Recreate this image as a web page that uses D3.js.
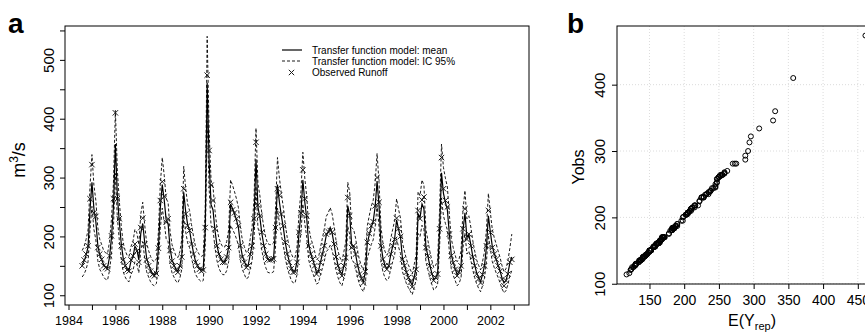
<!DOCTYPE html>
<html lang="en">
<head>
    <meta charset="UTF-8">
    <title>Runoff transfer function model</title>
    <style>
        body { margin: 0; background: #fff; }
        svg { display: block; font-family: "Liberation Sans", Arial, Helvetica, sans-serif; }
    </style>
</head>
<body>
    <div class="container"></div>
    <script src="https://cdn.jsdelivr.net/npm/d3@7/dist/d3.min.js"></script>
    <script>
        // monthly series, Aug 1984 .. Dec 2002
        const startYear = 1984, startMonth = 8

        const observed = [
            150, 160, 170, 184, 264,
            322, 240, 234, 181, 170, 161, 150, 147, 145, 167, 201, 264,
            410, 264, 230, 184, 160, 150, 143, 141, 160, 167, 187, 175,
            156, 215, 231, 187, 160, 150, 141, 135, 133, 137, 180, 261,
            293, 268, 224, 230, 176, 158, 150, 142, 139, 150, 165, 281,
            238, 218, 210, 187, 170, 156, 150, 144, 141, 143, 215, 474,
            346, 287, 261, 213, 184, 170, 161, 156, 156, 165, 181, 258,
            245, 240, 230, 218, 184, 165, 156, 147, 150, 170, 184, 230,
            360, 253, 235, 207, 184, 170, 161, 160, 161, 162, 215, 281,
            270, 238, 218, 190, 170, 156, 145, 139, 140, 156, 207, 240,
            313, 264, 235, 184, 170, 161, 150, 136, 140, 156, 170, 184,
            204, 208, 210, 207, 187, 165, 150, 140, 133, 150, 164, 266,
            235, 181, 184, 170, 150, 136, 128, 121, 140, 190, 205, 218,
            225, 252, 300, 258, 184, 161, 150, 144, 150, 170, 184, 195,
            231, 213, 200, 161, 150, 139, 130, 122, 114, 130, 144, 244,
            230, 262, 267, 181, 167, 150, 136, 125, 130, 136, 213, 334,
            281, 261, 250, 204, 167, 155, 144, 133, 140, 150, 213, 247,
            195, 204, 184, 165, 150, 136, 128, 121, 135, 150, 184, 244,
            207, 181, 170, 161, 150, 141, 127, 116, 125, 136, 156, 161
        ]

        const modelMean = [
            152, 158, 168, 182, 245,
            292, 247, 225, 185, 168, 160, 152, 148, 147, 165, 198, 250,
            357, 270, 225, 188, 163, 152, 145, 143, 158, 165, 183, 178,
            160, 205, 222, 190, 163, 152, 143, 137, 135, 140, 178, 248,
            288, 262, 228, 222, 180, 160, 152, 144, 141, 150, 168, 275,
            242, 220, 210, 190, 172, 158, 151, 146, 143, 145, 210, 461,
            328, 254, 245, 210, 185, 170, 162, 157, 157, 165, 182, 255,
            247, 238, 228, 215, 186, 167, 158, 149, 151, 168, 185, 228,
            331, 250, 232, 205, 185, 171, 162, 160, 160, 163, 212, 288,
            258, 235, 215, 190, 171, 158, 147, 141, 141, 157, 205, 238,
            296, 258, 230, 186, 171, 161, 151, 138, 141, 156, 170, 184,
            202, 207, 215, 205, 187, 166, 151, 141, 135, 150, 165, 252,
            236, 185, 183, 170, 151, 138, 129, 123, 140, 188, 203, 216,
            225, 250, 294, 252, 186, 163, 151, 145, 150, 169, 183, 196,
            228, 212, 199, 163, 151, 140, 131, 124, 117, 131, 146, 238,
            232, 255, 247, 183, 167, 151, 138, 127, 130, 137, 210, 308,
            273, 258, 245, 205, 169, 156, 145, 135, 140, 151, 210, 240,
            198, 203, 186, 166, 151, 138, 130, 123, 135, 150, 182, 235,
            208, 183, 171, 161, 151, 141, 129, 121, 125, 137, 155, 165
        ]

        const ciLower = [
            131, 136, 144, 157, 211,
            251, 212, 194, 159, 144, 138, 131, 127, 126, 142, 170, 215,
            307, 232, 194, 162, 140, 131, 125, 123, 136, 142, 157, 153,
            138, 176, 191, 163, 140, 131, 123, 118, 116, 120, 153, 213,
            248, 225, 196, 191, 155, 138, 131, 124, 121, 129, 144, 237,
            208, 189, 181, 163, 148, 136, 130, 126, 123, 125, 181, 396,
            282, 218, 211, 181, 159, 146, 139, 135, 135, 142, 157, 219,
            212, 205, 196, 185, 160, 144, 136, 128, 130, 144, 159, 196,
            285, 215, 200, 176, 159, 147, 139, 138, 138, 140, 182, 248,
            222, 202, 185, 163, 147, 136, 126, 121, 121, 135, 176, 205,
            255, 222, 198, 160, 147, 138, 130, 119, 121, 134, 146, 158,
            174, 178, 185, 176, 161, 143, 130, 121, 116, 129, 142, 217,
            203, 159, 157, 146, 130, 119, 111, 106, 120, 162, 175, 186,
            194, 215, 253, 217, 160, 140, 130, 125, 129, 145, 157, 169,
            196, 182, 171, 140, 130, 120, 113, 107, 101, 113, 126, 205,
            200, 219, 212, 157, 144, 130, 119, 109, 112, 118, 181, 265,
            235, 222, 211, 176, 145, 134, 125, 116, 120, 130, 181, 206,
            170, 175, 160, 143, 130, 119, 112, 106, 116, 129, 157, 202,
            179, 157, 147, 138, 130, 121, 111, 104, 108, 118, 133, 142
        ]

        const ciUpper = [
            176, 183, 195, 211, 284,
            339, 287, 261, 215, 195, 186, 176, 172, 171, 191, 230, 290,
            414, 313, 261, 218, 189, 176, 168, 166, 183, 191, 212, 206,
            186, 238, 258, 220, 189, 176, 166, 159, 157, 162, 206, 288,
            334, 304, 264, 258, 209, 186, 176, 167, 164, 174, 195, 319,
            281, 255, 244, 220, 200, 183, 175, 169, 166, 168, 244, 540,
            380, 295, 284, 244, 215, 197, 188, 182, 182, 191, 211, 296,
            287, 276, 264, 249, 216, 194, 183, 173, 175, 195, 215, 264,
            384, 290, 269, 238, 215, 198, 188, 186, 186, 189, 246, 334,
            299, 273, 249, 220, 198, 183, 171, 164, 164, 182, 238, 276,
            343, 299, 267, 216, 198, 187, 175, 160, 164, 181, 197, 213,
            234, 240, 249, 238, 217, 193, 175, 164, 157, 174, 191, 292,
            274, 215, 212, 197, 175, 160, 150, 143, 162, 218, 235, 251,
            261, 290, 341, 292, 216, 189, 175, 168, 174, 196, 212, 227,
            264, 246, 231, 189, 175, 162, 152, 144, 136, 152, 169, 276,
            269, 296, 287, 212, 194, 175, 160, 147, 151, 159, 244, 357,
            317, 299, 284, 238, 196, 181, 168, 157, 162, 175, 244, 278,
            230, 235, 216, 193, 175, 160, 151, 143, 157, 174, 211, 273,
            241, 212, 198, 187, 175, 164, 150, 140, 145, 159, 180, 204
        ]

        const legendLabels = ["Transfer function model: mean", "Transfer function model: IC 95%", "Observed Runoff"]

        const yearTicks = [1984, 1985, 1986, 1987, 1988, 1989, 1990, 1991, 1992, 1993,
                           1994, 1995, 1996, 1997, 1998, 1999, 2000, 2001, 2002, 2003]
        const runoffTicks = [100, 150, 200, 250, 300, 350, 400, 450, 500, 550]
        const runoffLabels = [100, 200, 300, 400, 500]
        const qqXTicks = [150, 200, 250, 300, 350, 400, 450]
        const qqYTicks = [100, 200, 300, 400]


        const W = 865, H = 332
        const svg = d3.select(".container").append("svg")
            .attr("width", W).attr("height", H)

        // R style axis range: data range stretched by 4% each side
        function rPad(ext){
            const r = ext[1] - ext[0]
            return [ext[0] - 0.04 * r, ext[1] + 0.04 * r]
        }

        const time = observed.map((d, i) => startYear + (startMonth - 1 + i) / 12)

        // ---------- panel a ----------
        const A = { left: 65, right: 529, top: 26, bottom: 305 }

        const xa = d3.scaleLinear()
            .domain(rPad(d3.extent(time)))
            .range([A.left, A.right])
        const ya = d3.scaleLinear()
            .domain(rPad(d3.extent(ciLower.concat(ciUpper, observed, modelMean))))
            .range([A.bottom, A.top])

        const ga = svg.append("g")

        const line = arr => d3.line()
            .x((d, i) => xa(time[i]))
            .y(d => ya(d))(arr)

        ga.append("path").attr("d", line(ciLower))
            .attr("fill", "none").attr("stroke", "#000").attr("stroke-width", 0.9)
            .attr("stroke-dasharray", "3,2")
        ga.append("path").attr("d", line(ciUpper))
            .attr("fill", "none").attr("stroke", "#000").attr("stroke-width", 0.9)
            .attr("stroke-dasharray", "3,2")
        ga.append("path").attr("d", line(modelMean))
            .attr("fill", "none").attr("stroke", "#000").attr("stroke-width", 1.2)

        const cross = "M-2.7,-2.7L2.7,2.7M-2.7,2.7L2.7,-2.7"
        ga.selectAll(".obs").data(observed).enter()
            .append("path")
            .attr("class", "obs")
            .attr("d", cross)
            .attr("transform", (d, i) => `translate(${xa(time[i])},${ya(d)})`)
            .attr("fill", "none").attr("stroke", "#1a1a1a").attr("stroke-width", 1)

        ga.append("rect")
            .attr("x", A.left).attr("y", A.top)
            .attr("width", A.right - A.left).attr("height", A.bottom - A.top)
            .attr("fill", "none").attr("stroke", "#000").attr("stroke-width", 1)

        const axA = ga.append("g")
            .attr("transform", `translate(0,${A.bottom})`)
            .call(d3.axisBottom(xa).tickValues(yearTicks).tickSize(5)
                .tickFormat(d => d % 2 === 0 && d < 2003 ? d : ""))
        axA.select(".domain").remove()
        axA.selectAll("text").attr("y", 20).attr("dy", 0)
            .attr("font-size", "12.5px").attr("fill", "#000")

        const ayA = ga.append("g")
            .attr("transform", `translate(${A.left},0)`)
            .call(d3.axisLeft(ya).tickValues(runoffTicks).tickSize(5)
                .tickFormat(d => runoffLabels.includes(d) ? d : ""))
        ayA.select(".domain").remove()
        ayA.selectAll("text")
            .attr("transform", "rotate(-90)")
            .attr("x", 0).attr("y", -11).attr("dy", 0)
            .attr("text-anchor", "middle")
            .attr("font-size", "15px").attr("fill", "#000")

        const yTitleA = ga.append("text")
            .attr("transform", "translate(25,160) rotate(-90)")
            .attr("text-anchor", "middle")
            .attr("font-size", "18px")
        yTitleA.append("tspan").text("m")
        yTitleA.append("tspan").attr("dy", -7).attr("font-size", "12px").text("3")
        yTitleA.append("tspan").attr("dy", 7).text("/s")

        // legend
        const lg = ga.append("g").attr("font-size", "10px")
        const rowY = [50, 61, 72.5]
        lg.append("line").attr("x1", 282).attr("x2", 302).attr("y1", rowY[0]).attr("y2", rowY[0])
            .attr("stroke", "#000").attr("stroke-width", 1.2)
        lg.append("line").attr("x1", 282).attr("x2", 302).attr("y1", rowY[1]).attr("y2", rowY[1])
            .attr("stroke", "#000").attr("stroke-width", 0.9).attr("stroke-dasharray", "3,2")
        lg.append("path").attr("d", cross).attr("transform", `translate(291.5,${rowY[2]})`)
            .attr("fill", "none").attr("stroke", "#1a1a1a").attr("stroke-width", 1)
        lg.selectAll(".lab").data(legendLabels).enter()
            .append("text")
            .attr("x", 312).attr("y", (d, i) => rowY[i]).attr("dy", "0.35em")
            .text(d => d)

        svg.append("text").attr("x", 8).attr("y", 33)
            .attr("font-size", "28px").attr("font-weight", "bold").text("a")

        // ---------- panel b ----------
        const B = { left: 617, right: 875, top: 26, bottom: 284 }
        const qqX = modelMean.slice().sort(d3.ascending)
        const qqY = observed.slice().sort(d3.ascending)

        const xb = d3.scaleLinear().domain(rPad(d3.extent(qqX))).range([B.left, B.right])
        const yb = d3.scaleLinear().domain(rPad(d3.extent(qqY))).range([B.bottom, B.top])

        const gb = svg.append("g")

        gb.selectAll(".gx").data(qqXTicks).enter().append("line")
            .attr("x1", d => xb(d)).attr("x2", d => xb(d))
            .attr("y1", B.top).attr("y2", B.bottom)
            .attr("stroke", "#d3d3d3").attr("stroke-width", 0.8).attr("stroke-dasharray", "1,2")
        gb.selectAll(".gy").data(qqYTicks).enter().append("line")
            .attr("x1", B.left).attr("x2", B.right)
            .attr("y1", d => yb(d)).attr("y2", d => yb(d))
            .attr("stroke", "#d3d3d3").attr("stroke-width", 0.8).attr("stroke-dasharray", "1,2")

        gb.selectAll("circle").data(qqY).enter()
            .append("circle")
            .attr("cx", (d, i) => xb(qqX[i]))
            .attr("cy", d => yb(d))
            .attr("r", 2.5)
            .attr("fill", "none").attr("stroke", "#000").attr("stroke-width", 1)

        gb.append("rect")
            .attr("x", B.left).attr("y", B.top)
            .attr("width", B.right - B.left).attr("height", B.bottom - B.top)
            .attr("fill", "none").attr("stroke", "#000").attr("stroke-width", 1)

        const axB = gb.append("g")
            .attr("transform", `translate(0,${B.bottom})`)
            .call(d3.axisBottom(xb).tickValues(qqXTicks).tickSize(5))
        axB.select(".domain").remove()
        axB.selectAll("text").attr("y", 21).attr("dy", 0)
            .attr("font-size", "14px").attr("fill", "#000")

        const ayB = gb.append("g")
            .attr("transform", `translate(${B.left},0)`)
            .call(d3.axisLeft(yb).tickValues(qqYTicks).tickSize(5))
        ayB.select(".domain").remove()
        ayB.selectAll("text")
            .attr("transform", "rotate(-90)")
            .attr("x", 0).attr("y", -12).attr("dy", 0)
            .attr("text-anchor", "middle")
            .attr("font-size", "15px").attr("fill", "#000")

        gb.append("text")
            .attr("transform", "translate(584,167) rotate(-90)")
            .attr("text-anchor", "middle")
            .attr("font-size", "16px")
            .text("Yobs")

        const xTitleB = gb.append("text")
            .attr("x", 752).attr("y", 326)
            .attr("text-anchor", "middle")
            .attr("font-size", "16px")
        xTitleB.append("tspan").text("E(Y")
        xTitleB.append("tspan").attr("dy", 4).attr("font-size", "11px").text("rep")
        xTitleB.append("tspan").attr("dy", -4).text(")")

        svg.append("text").attr("x", 567).attr("y", 33)
            .attr("font-size", "28px").attr("font-weight", "bold").text("b")
    </script>
</body>
</html>
